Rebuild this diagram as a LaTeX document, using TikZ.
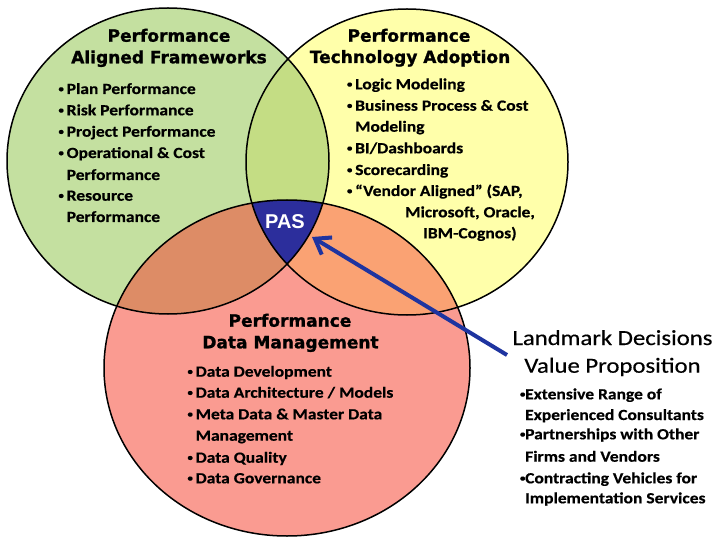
\documentclass[tikz,border=0pt]{standalone}
\usepackage{fontspec}
\usepackage{graphicx}
\setmainfont{Carlito}
\newfontfamily\titlef{DejaVu Sans}[BoldFeatures={FakeBold=1.2}]
\newfontfamily\bodyf{Carlito}[FakeStretch=1.13, BoldFeatures={FakeBold=0.5}]
\newfontfamily\ldf{Carlito}[FakeStretch=1.15, FakeBold=0.4]
\newfontfamily\pasf{Liberation Sans}
\usetikzlibrary{arrows.meta}
\definecolor{cgreen}{RGB}{196,224,160}
\definecolor{cyellow}{RGB}{255,255,170}
\definecolor{cred}{RGB}{250,155,145}
\definecolor{cgy}{RGB}{196,221,132}
\definecolor{cgr}{RGB}{221,140,102}
\definecolor{cyr}{RGB}{250,162,115}
\definecolor{cpas}{RGB}{44,46,156}
\definecolor{carrow}{RGB}{30,52,160}
\newcommand\bul[1]{\makebox[#1][l]{\hspace{0.3pt}\raisebox{0.13em}{\scalebox{0.62}{•}}}}
\tikzset{
  ttl/.style={font=\titlef\bfseries\fontsize{17}{20}\selectfont, anchor=base, inner sep=0pt},
  itm/.style={font=\bodyf\bfseries\fontsize{15.5}{18}\selectfont, anchor=base west, inner sep=0pt},
  ldttl/.style={font=\ldf\fontsize{21.5}{24}\selectfont, anchor=base, inner sep=0pt},
  outline/.style={draw=black, line width=1.5pt},
  arrowst/.style={draw=carrow, line width=4pt, -{Straight Barb[length=14pt,width=20pt]}}
}
\begin{document}
\begin{tikzpicture}[x=1pt,y=-1pt]
\useasboundingbox (0,0) rectangle (717,537);
\fill[white] (0,0) rectangle (717,537);
% base fills
\fill[cgreen] (168,161) ellipse [x radius=161pt, y radius=153pt];
\fill[cyellow] (407,162) ellipse [x radius=161pt, y radius=153pt];
\fill[cred] (287,368) ellipse [x radius=183pt, y radius=168pt];
% overlaps
\begin{scope}
  \clip (168,161) ellipse [x radius=161pt, y radius=153pt];
  \fill[cgy] (407,162) ellipse [x radius=161pt, y radius=153pt];
  \fill[cgr] (287,368) ellipse [x radius=183pt, y radius=168pt];
\end{scope}
\begin{scope}
  \clip (407,162) ellipse [x radius=161pt, y radius=153pt];
  \fill[cyr] (287,368) ellipse [x radius=183pt, y radius=168pt];
  \clip (168,161) ellipse [x radius=161pt, y radius=153pt];
  \fill[cpas] (287,368) ellipse [x radius=183pt, y radius=168pt];
\end{scope}
% outlines
\draw[outline] (168,161) ellipse [x radius=161pt, y radius=153pt];
\draw[outline] (407,162) ellipse [x radius=161pt, y radius=153pt];
\draw[outline] (287,368) ellipse [x radius=183pt, y radius=168pt];

% green text
\node[ttl] (gt1) at (169,41.7) {Performance};
\node[ttl] (gt2) at (169,63.3) {Aligned Frameworks};
\node[itm] (g1) at (58,94) {\bul{8.5pt}Plan Performance};
\node[itm] (g2) at (58,115.3) {\bul{8.5pt}Risk Performance};
\node[itm] (g3) at (58,136.7) {\bul{8.5pt}Project Performance};
\node[itm] (g4) at (58,158) {\bul{8.5pt}Operational \& Cost};
\node[itm] (g5) at (58,180) {\hspace*{8.5pt}Performance};
\node[itm] (g6) at (58,200.7) {\bul{8.5pt}Resource};
\node[itm] (g7) at (58,222) {\hspace*{8.5pt}Performance};

% yellow text
\node[ttl] (yt1) at (409,41.7) {Performance};
\node[ttl] (yt2) at (410,63) {Technology Adoption};
\node[itm] (y1) at (346.5,89.3) {\bul{8.5pt}Logic Modeling};
\node[itm] (y2) at (346.5,110.7) {\bul{8.5pt}Business Process \& Cost};
\node[itm] (y3) at (346.5,131.7) {\hspace*{8.5pt}Modeling};
\node[itm] (y4) at (346.5,153.3) {\bul{8.5pt}BI/Dashboards};
\node[itm] (y5) at (346.5,175) {\bul{8.5pt}Scorecarding};
\node[itm] (y6) at (346.5,196) {\bul{8.5pt}“Vendor Aligned” (SAP,};
\node[itm] (y7) at (405,217.3) {Microsoft, Oracle,};
\node[itm] (y8) at (423,238.3) {IBM-Cognos)};

% red text
\node[ttl] (rt1) at (290,326.7) {Performance};
\node[ttl] (rt2) at (290.5,348.3) {Data Management};
\node[itm] (r1) at (187,376.7) {\bul{8.5pt}Data Development};
\node[itm] (r2) at (187,397.7) {\bul{8.5pt}Data Architecture / Models};
\node[itm] (r3) at (187,419.3) {\bul{8.5pt}Meta Data \& Master Data};
\node[itm] (r4) at (187,440.7) {\hspace*{8.5pt}Management};
\node[itm] (r5) at (187,462.7) {\bul{8.5pt}Data Quality};
\node[itm] (r6) at (187,483.3) {\bul{8.5pt}Data Governance};

% PAS
\node[font=\pasf\bfseries\fontsize{20}{24}\selectfont, text=white, anchor=base, inner sep=0pt] (pas) at (285,228.5) {PAS};

% landmark text
\node[ldttl] (lt1) at (612.5,345) {Landmark Decisions};
\node[ldttl] (lt2) at (612.5,372.7) {Value Proposition};
\node[itm] (l1) at (519.5,399.3) {\bul{5.5pt}Extensive Range of};
\node[itm] (l2) at (519.5,420) {\hspace*{5.5pt}Experienced Consultants};
\node[itm] (l3) at (519.5,439.3) {\bul{5.5pt}Partnerships with Other};
\node[itm] (l4) at (519.5,461.7) {\hspace*{5.5pt}Firms and Vendors};
\node[itm] (l5) at (519.5,483.3) {\bul{5.5pt}Contracting Vehicles for};
\node[itm] (l6) at (519.5,503.3) {\hspace*{5.5pt}Implementation Services};

% arrow
\coordinate (atail) at (507,355);
\coordinate (atip) at (312,237);
\draw[arrowst] (atail) -- (atip);
\end{tikzpicture}
\end{document}
